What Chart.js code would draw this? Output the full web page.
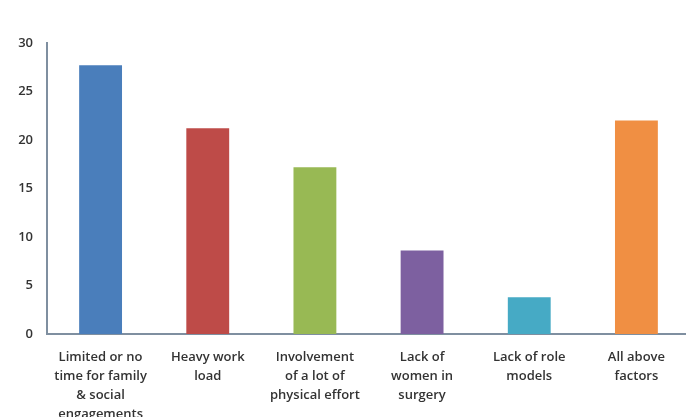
<!DOCTYPE html>
<html>
<head>
<meta charset="utf-8">
<script src="https://cdn.jsdelivr.net/npm/chart.js@4.4.0/dist/chart.umd.min.js"></script>
<style>
html,body{margin:0;padding:0;background:#fff;overflow:hidden;}
#wrap{position:relative;width:690px;height:417px;}
</style>
</head>
<body>
<div id="wrap"><canvas id="c"></canvas></div>
<script>
const categories = [
  ["Limited or no","time for family","& social","engagements"],
  ["Heavy work","load"],
  ["Involvement","of a lot of","physical effort"],
  ["Lack of","women in","surgery"],
  ["Lack of role","models"],
  ["All above","factors"]
];
const values = [27.7, 21.2, 17.2, 8.6, 3.8, 22.0];
const barColors = ["#4a7ebb","#be4b48","#98b954","#7d60a0","#46aac5","#f08f43"];
const yTicks = [0,5,10,15,20,25,30];

new Chart(document.getElementById('c'), {
  type: 'bar',
  data: {
    labels: categories,
    datasets: [{
      data: values,
      backgroundColor: barColors,
      borderWidth: 0,
      barPercentage: 0.4,
      categoryPercentage: 1.0
    }]
  },
  options: {
    responsive: true,
    maintainAspectRatio: false,
    animation: false,
    layout: { padding: { top: 43, left: 0, right: 0, bottom: 0 } },
    plugins: { legend: { display: false }, tooltip: { enabled: false } },
    scales: {
      x: {
        grid: { display: false },
        border: { display: true, color: '#7f8fa0', width: 2 },
        afterFit: (s) => { s.height = 83; },
        ticks: {
          color: '#333333',
          font: { family: 'Open Sans', size: 13, weight: '600', lineHeight: 1.46 },
          maxRotation: 0, minRotation: 0, autoSkip: false, padding: 6
        }
      },
      y: {
        min: 0, max: 30,
        afterBuildTicks: (axis) => { axis.ticks = yTicks.map(v => ({ value: v })); },
        afterFit: (s) => { s.width = 47; },
        grid: { display: false },
        border: { display: true, color: '#7f8fa0', width: 2 },
        ticks: {
          color: '#333333',
          font: { family: 'Open Sans', size: 13, weight: '600' },
          padding: 6
        }
      }
    }
  }
});
</script>
</body>
</html>
